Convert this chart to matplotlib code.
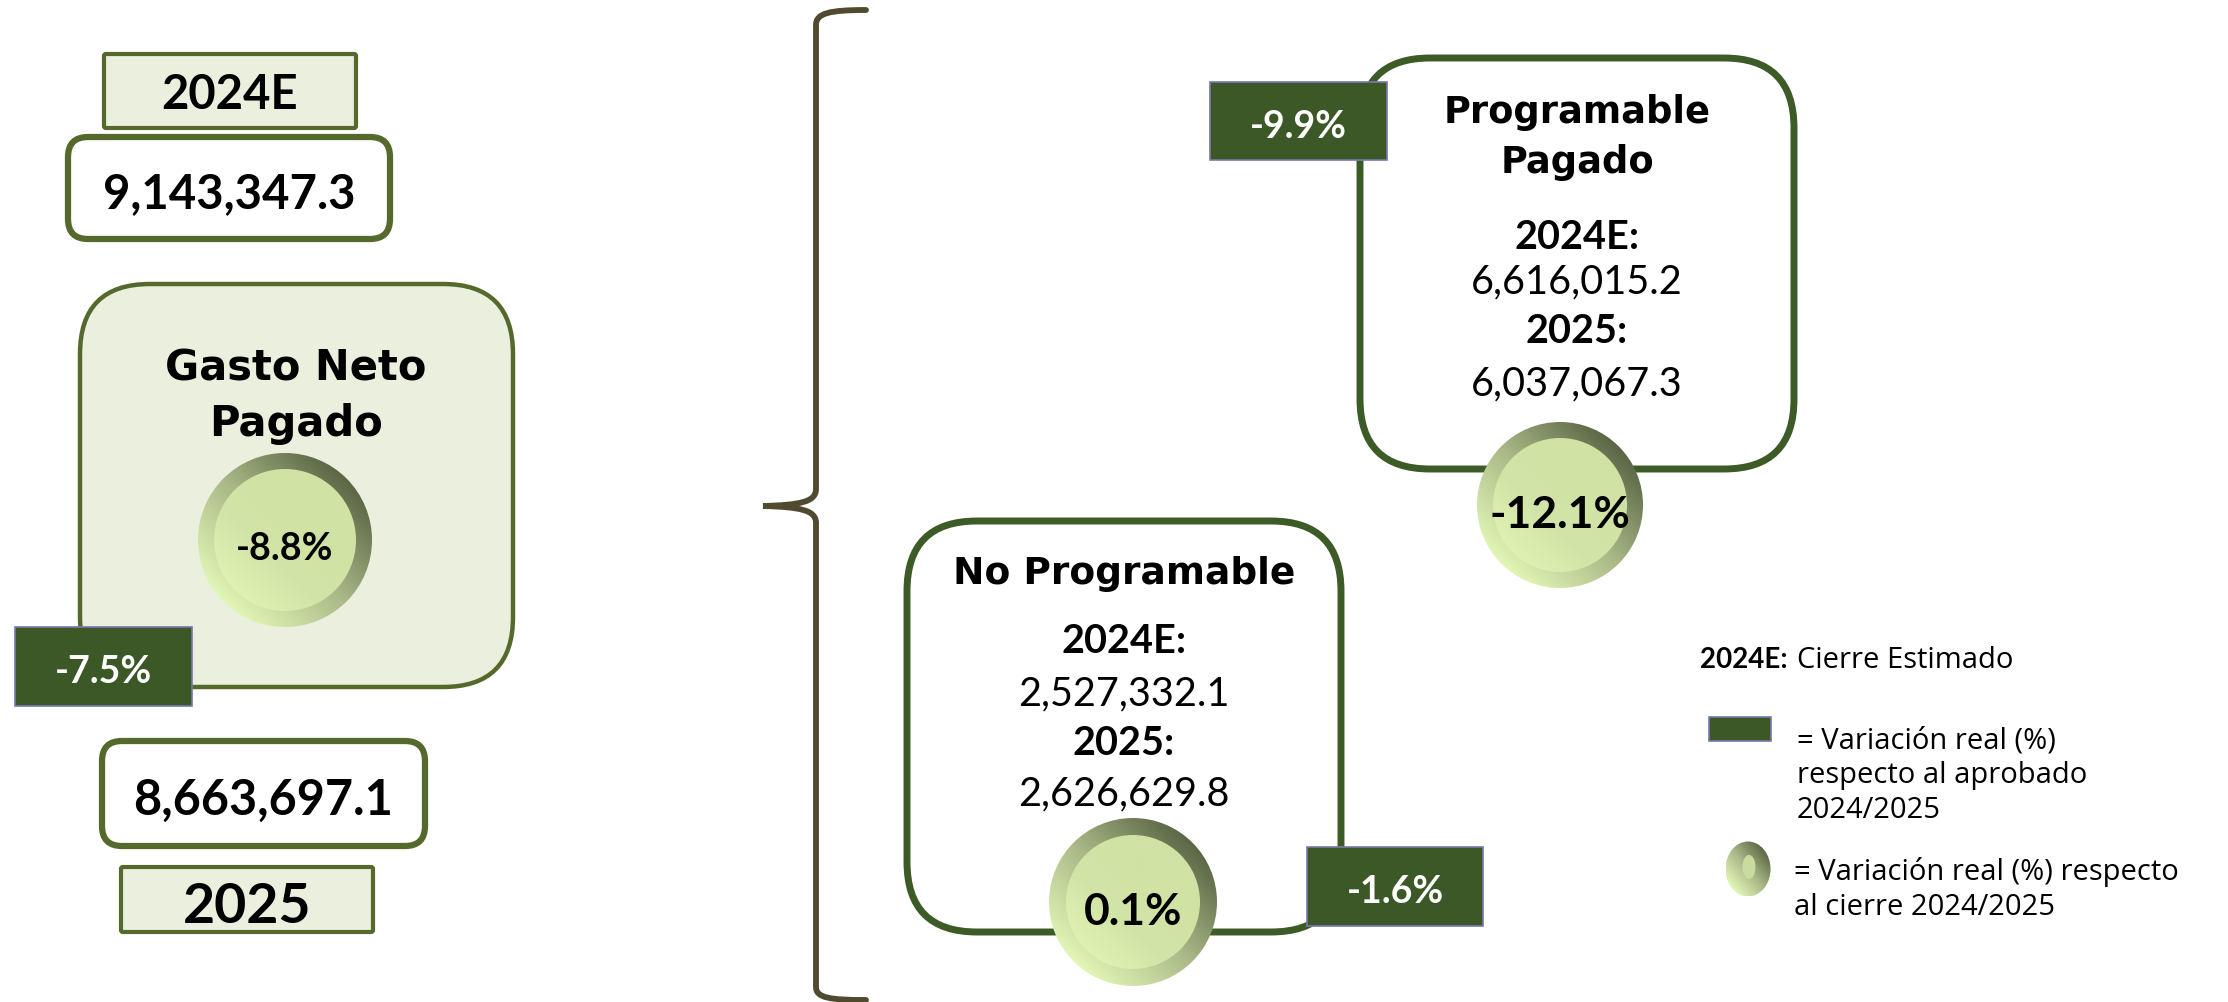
import numpy as np
import matplotlib.pyplot as plt
from matplotlib.patches import FancyBboxPatch, Rectangle, Circle, Ellipse, PathPatch
from matplotlib.path import Path
from matplotlib.colors import LinearSegmentedColormap

plt.rcParams['font.family'] = ['Lato', 'DejaVu Sans']
WIDE = ['DejaVu Sans']
LEG = ['Open Sans', 'DejaVu Sans']

# data
total_label = ['2024E', '2025']
total_values = ['9,143,347.3', '8,663,697.1']
total_title = 'Gasto Neto\nPagado'
total_var_cierre = '-8.8%'
total_var_aprob = '-7.5%'

comp_titles = ['Programable\nPagado', 'No Programable']
comp_2024 = ['6,616,015.2', '2,527,332.1']
comp_2025 = ['6,037,067.3', '2,626,629.8']
comp_var_cierre = ['-12.1%', '0.1%']
comp_var_aprob = ['-9.9%', '-1.6%']

legend_lines = ['= Variación real (%)\nrespecto al aprobado\n2024/2025',
                '= Variación real (%) respecto\nal cierre 2024/2025']

LIGHT = '#EAEFDE'
OLIVE = '#55692C'
DARK = '#3D5B27'
BOXG = '#3C5826'
BOXEDGE = '#7878AE'
BRACE = '#4F4A30'

ring_cmap = LinearSegmentedColormap.from_list('ring', ['#E2F6B6', '#A9B887', '#5A6645'])
core_cmap = LinearSegmentedColormap.from_list('core', ['#DFF2B3', '#D2E4A7', '#D0E2A4', '#D0E2A4'])

fig = plt.figure(figsize=(22.28, 10.03), dpi=100)
ax = fig.add_axes([0, 0, 1, 1])
ax.set_xlim(0, 2228)
ax.set_ylim(1003, 0)
ax.axis('off')


def put(x, yc, s, size, weight='bold', color='black', ha='center', family=None):
    # yc is the middle of the capitals
    kw = {'family': family} if family else {}
    ax.text(x, yc + size * 0.5, s, fontsize=size, fontweight=weight, color=color,
            ha=ha, va='baseline', zorder=10, **kw)


def rbox(x0, y0, x1, y1, fc, ec, lw, r, z=2):
    p = FancyBboxPatch((x0, y0), x1 - x0, y1 - y0,
                       boxstyle='round,pad=0,rounding_size=%d' % r,
                       fc=fc, ec=ec, lw=lw, zorder=z)
    ax.add_patch(p)


def gbox(x0, y0, x1, y1, s, size=27):
    ax.add_patch(Rectangle((x0, y0), x1 - x0, y1 - y0, fc=BOXG, ec=BOXEDGE, lw=1.2, zorder=6))
    if s:
        put((x0 + x1) / 2, (y0 + y1) / 2 + 2, s, size, color='white')


def grad(cx, cy, rx, ry, cmap, clip, z):
    n = 200
    xx, yy = np.meshgrid(np.linspace(-1, 1, n), np.linspace(-1, 1, n))
    t = (xx - yy) / (2 * np.sqrt(2)) + 0.5
    im = ax.imshow(t, cmap=cmap, vmin=0, vmax=1, origin='upper',
                   extent=(cx - rx, cx + rx, cy + ry, cy - ry), zorder=z, interpolation='bilinear')
    im.set_clip_path(clip)


def button(cx, cy, r, ri, s, size):
    outer = Circle((cx, cy), r, fc='none', ec='none', zorder=7)
    ax.add_patch(outer)
    grad(cx, cy, r, r, ring_cmap, outer, 7)
    inner = Circle((cx, cy), ri, fc='none', ec='none', zorder=8)
    ax.add_patch(inner)
    grad(cx, cy, ri, ri, core_cmap, inner, 8)
    put(cx, cy + 6, s, size)


# ---- left block
rbox(104, 55, 356, 129, LIGHT, OLIVE, 3.0, 2)
put(230, 92, total_label[0], 34)
rbox(68, 138, 390, 240, 'white', OLIVE, 4.5, 20)
put(229, 191, total_values[0], 34)

rbox(80, 285, 513, 688, LIGHT, OLIVE, 3.2, 70)
t1, t2 = total_title.split('\n')
put(296, 365, t1, 30, family=WIDE)
put(296, 421, t2, 30, family=WIDE)
button(285, 541, 87, 71, total_var_cierre, 27)
gbox(15, 628, 192, 707, total_var_aprob)

rbox(102, 742, 425, 847, 'white', OLIVE, 4.5, 20)
put(263, 797, total_values[1], 35)
rbox(121, 868, 373, 933, LIGHT, OLIVE, 3.0, 2)
put(247, 903, total_label[1], 40)

# ---- brace
verts = [(866, 11), (830, 11), (816, 14), (816, 26),
         (816, 490),
         (816, 503), (800, 506), (763, 507),
         (800, 508), (816, 511), (816, 524),
         (816, 988),
         (816, 999), (830, 1001), (866, 1001)]
codes = [Path.MOVETO, Path.CURVE4, Path.CURVE4, Path.CURVE4,
         Path.LINETO,
         Path.CURVE4, Path.CURVE4, Path.CURVE4,
         Path.CURVE4, Path.CURVE4, Path.CURVE4,
         Path.LINETO,
         Path.CURVE4, Path.CURVE4, Path.CURVE4]
ax.add_patch(PathPatch(Path(verts, codes), fc='none', ec=BRACE, lw=4.2, capstyle='round', zorder=3))

# ---- Programable / No Programable
boxes = [(1360, 59, 1794, 470), (907, 522, 1341, 933)]
title_y = [[110, 160], [571]]
title_size = [26.5, 27]
val_y = [[235, 279, 329, 381], [639, 691, 741, 791]]
buttons = [(1560, 506, 83, 67), (1133, 903, 84, 67)]
gboxes = [(1210, 83, 1387, 161), (1307, 848, 1483, 927)]

for i in range(2):
    x0, y0, x1, y1 = boxes[i]
    xc = (x0 + x1) / 2
    rbox(x0, y0, x1, y1, 'white', DARK, 5.0, 70)
    for line, yy in zip(comp_titles[i].split('\n'), title_y[i]):
        put(xc, yy, line, title_size[i], family=WIDE)
    vy = val_y[i]
    put(xc, vy[0], '2024E:', 28.5)
    put(xc, vy[1], comp_2024[i], 28.5, weight='normal')
    put(xc, vy[2], '2025:', 28.5)
    put(xc, vy[3], comp_2025[i], 28.5, weight='normal')
    cx, cy, r, ri = buttons[i]
    button(cx, cy, r, ri, comp_var_cierre[i], 32)
    gbox(*gboxes[i], comp_var_aprob[i])

# ---- legend
put(1700, 658, '2024E:', 20, ha='left')
put(1797, 658, 'Cierre Estimado', 21, weight='normal', ha='left', family=LEG)
gbox(1709, 718, 1771, 742, '')
for k, line in enumerate(legend_lines[0].split('\n')):
    put(1797, 738 + 35 * k, line, 21, weight='normal', ha='left', family=LEG)
donut = Ellipse((1748, 870), 45, 55, fc='none', ec='none', zorder=7)
ax.add_patch(donut)
grad(1748, 870, 22.5, 27.5, ring_cmap, donut, 7)
ax.add_patch(Ellipse((1749, 868), 13, 24, fc='#C9DB9E', ec='none', zorder=8))
for k, line in enumerate(legend_lines[1].split('\n')):
    put(1794, 870 + 35 * k, line, 21, weight='normal', ha='left', family=LEG)

fig.savefig('out.png', dpi=100, facecolor='white')
